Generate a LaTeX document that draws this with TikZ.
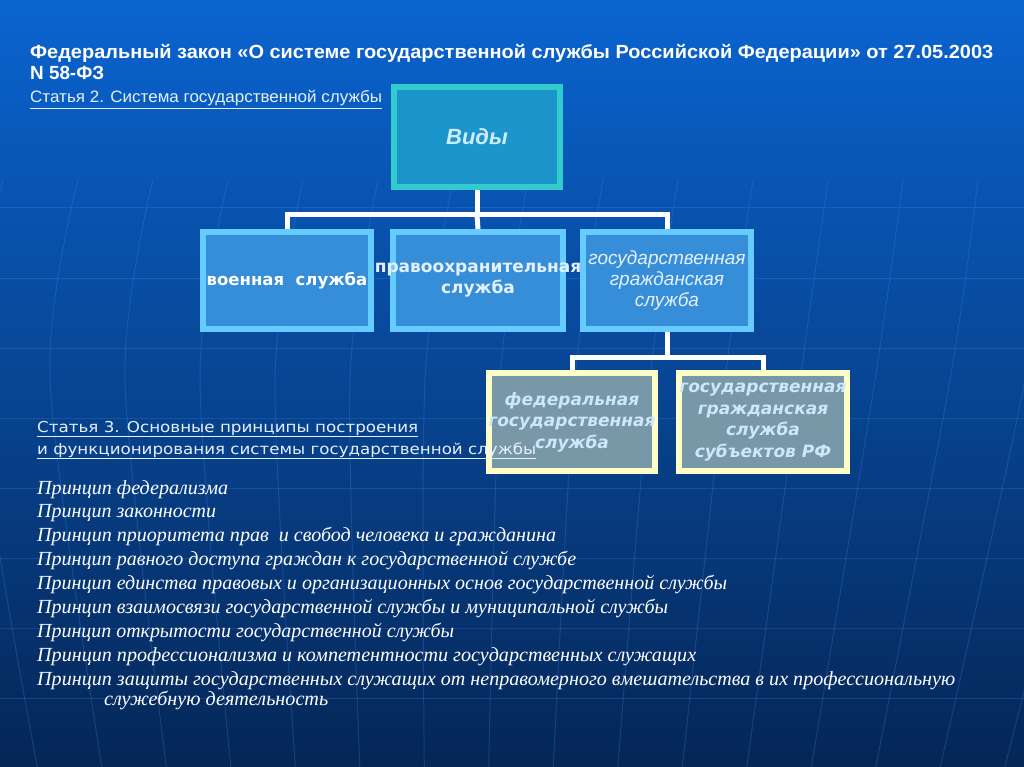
\documentclass[tikz,border=0pt]{standalone}
\usepackage{fontspec}
\usepackage{graphicx}
\setmainfont{Liberation Serif}
\newfontfamily\arialf{Liberation Sans}
\newfontfamily\verdf{DejaVu Sans}
\definecolor{bgtop}{RGB}{10,100,208}
\definecolor{bgmid}{RGB}{8,72,162}
\definecolor{bgbot}{RGB}{5,38,86}
\definecolor{gridc}{RGB}{60,140,235}
\definecolor{vidborder}{RGB}{51,204,204}
\definecolor{vidfill}{RGB}{28,148,204}
\definecolor{vidtext}{RGB}{204,236,255}
\definecolor{ltwoborder}{RGB}{102,204,255}
\definecolor{ltwofill}{RGB}{54,142,216}
\definecolor{lthreeborder}{RGB}{255,255,200}
\definecolor{lthreefill}{RGB}{120,152,168}
\definecolor{lthreetext}{RGB}{204,230,250}
\definecolor{lighttext}{RGB}{228,240,255}
\pgfdeclarelayer{bg}
\pgfdeclarelayer{links}
\pgfsetlayers{bg,links,main}
\newsavebox\fitbox
\newdimen\fitdim
\newcommand\fitw[2]{\sbox\fitbox{#2}\fitdim=\wd\fitbox\pgfmathsetmacro\fitscale{#1/\fitdim}\scalebox{\fitscale}[1]{\usebox\fitbox}}
\newcommand\cl[1]{\makebox[0pt]{#1}}
\tikzset{
  gridline/.style={draw=gridc, line width=1pt, opacity=0.25},
  conn/.style={draw=white, line width=5pt},
  vidbox/.style={draw=vidborder, line width=6pt, fill=vidfill, minimum width=166pt, minimum height=100pt, inner sep=0pt, text=vidtext, font=\arialf\bfseries\itshape\fontsize{22}{26}\selectfont},
  ltwobox/.style={draw=ltwoborder, line width=6pt, fill=ltwofill, minimum height=97pt, inner sep=0pt, align=center},
  lthreebox/.style={draw=lthreeborder, line width=6pt, fill=lthreefill, minimum height=98pt, inner sep=0pt, align=center, text=lthreetext, font=\verdf\bfseries\itshape\fontsize{17}{21.5}\selectfont},
  plain/.style={anchor=base west, inner sep=0pt},
}
\begin{document}
\begin{tikzpicture}[x=1pt,y=-1pt]
\useasboundingbox (0,0) rectangle (1024,767);
\begin{pgfonlayer}{bg}
\shade[top color=bgtop, middle color=bgmid, bottom color=bgbot] (0,0) rectangle (1024,767);
\foreach \yy in {208,278,348,418,488,558,628,698}
  \draw[gridline] (0,\yy) -- (1024,\yy);
\foreach \i in {-3,...,15}{
  \pgfmathsetmacro\xm{50+75*\i}
  \pgfmathsetmacro\xt{\xm+28}
  \pgfmathsetmacro\xb{420+(\xm-420)*0.86}
  \draw[gridline] plot[smooth] coordinates {(\xt,180) (\xm,380) (\xb,767)};
}
\end{pgfonlayer}
% title
\node[plain, text=white, font=\arialf\bfseries\fontsize{19}{22}\selectfont] (title1) at (30,59) {\fitw{963pt}{Федеральный закон «О системе государственной службы Российской Федерации» от 27.05.2003}};
\node[plain, text=white, font=\arialf\bfseries\fontsize{19}{22}\selectfont] (title2) at (30,80) {\fitw{74pt}{N 58-ФЗ}};
\node[plain, text=lighttext, font=\arialf\fontsize{16.5}{18}\selectfont] (art2) at (30,103) {\fitw{352pt}{\underline{Статья 2. Система государственной службы}}};
% boxes
\node[vidbox] (vid) at (477,137) {Виды};
\node[ltwobox, minimum width=168pt, text=white, font=\verdf\bfseries\fontsize{16.5}{21}\selectfont] (mil) at (287,280.5) {\cl{военная\ \ служба}};
\node[ltwobox, minimum width=170pt, text=lighttext, font=\verdf\bfseries\fontsize{17}{21}\selectfont] (law) at (478,280.5) {\cl{правоохранительная}\\\cl{служба}};
\node[ltwobox, minimum width=168pt, text=lighttext, font=\arialf\itshape\fontsize{19}{21}\selectfont] (civ) at (667,280.5) {\cl{государственная}\\\cl{гражданская}\\\cl{служба}};
\node[lthreebox, minimum width=166pt] (fed) at (572,422) {\cl{федеральная}\\\cl{государственная}\\\cl{служба}};
\node[lthreebox, minimum width=168pt] (reg) at (763,422) {\cl{государственная}\\\cl{гражданская}\\\cl{служба}\\\cl{субъектов РФ}};
% connectors
\coordinate (bus1) at (477,215);
\coordinate (bus2) at (667,357);
\begin{pgfonlayer}{links}
\draw[conn] (vid.south) -- (bus1);
\draw[conn] (bus1) -| (mil.north);
\draw[conn] (bus1) -- (law.north);
\draw[conn] (bus1) -| (civ.north);
\draw[conn] (civ.south) -- (bus2);
\draw[conn] (bus2) -| (fed.north);
\draw[conn] (bus2) -| (reg.north);
\end{pgfonlayer}
% article 3
\node[plain, text=lighttext, font=\verdf\fontsize{15}{17}\selectfont] (art3a) at (37,432) {\fitw{381pt}{\underline{Статья 3. Основные принципы построения}}};
\node[plain, text=lighttext, font=\verdf\fontsize{15}{17}\selectfont] (art3b) at (37,454) {\fitw{499pt}{\underline{и функционирования системы государственной службы}}};
% principles
\begin{scope}[every node/.style={plain, text=white, font=\itshape\fontsize{20}{22}\selectfont}]
\node (p1) at (37,494) {\fitw{191pt}{Принцип федерализма}};
\node (p2) at (37,517) {\fitw{179pt}{Принцип законности}};
\node (p3) at (37,541) {\fitw{519pt}{Принцип приоритета прав\ \ и свобод человека и гражданина}};
\node (p4) at (37,565) {\fitw{539pt}{Принцип равного доступа граждан к государственной службе}};
\node (p5) at (37,589) {\fitw{690pt}{Принцип единства правовых и организационных основ государственной службы}};
\node (p6) at (37,613) {\fitw{631pt}{Принцип взаимосвязи государственной службы и муниципальной службы}};
\node (p7) at (37,637) {\fitw{417pt}{Принцип открытости государственной службы}};
\node (p8) at (37,661) {\fitw{659pt}{Принцип профессионализма и компетентности государственных служащих}};
\node (p9) at (37,685) {\fitw{918pt}{Принцип защиты государственных служащих от неправомерного вмешательства в их профессиональную}};
\node (p10) at (104,705) {\fitw{224pt}{служебную деятельность}};
\end{scope}
\end{tikzpicture}
\end{document}
